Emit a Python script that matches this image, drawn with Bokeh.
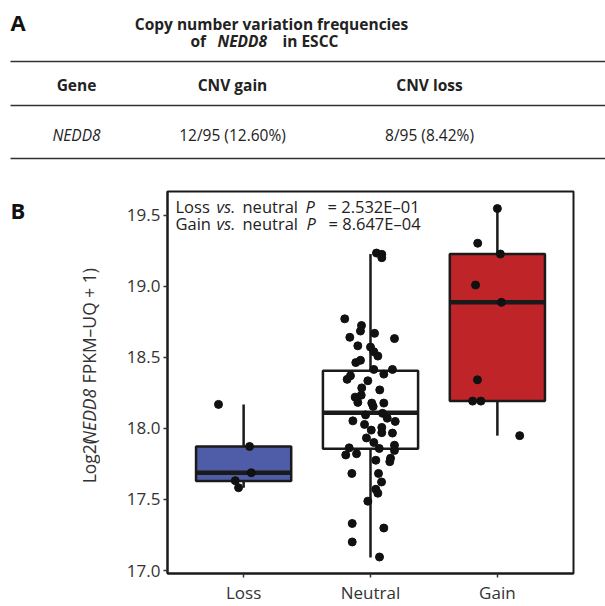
import numpy as np
from bokeh.plotting import figure
from bokeh.models import Range1d, FixedTicker, NumeralTickFormatter
from bokeh.layouts import column, row
from bokeh.embed import file_html
from bokeh.resources import INLINE
from bokeh.core.properties import value

FONT = "Open Sans"
INK = "#222222"

# ---------------- data ----------------
table_header = ["Gene", "CNV gain", "CNV loss"]
table_gene = ["NEDD8"]
table_gain = ["12/95 (12.60%)"]
table_loss = ["8/95 (8.42%)"]

categories = ["Loss", "Neutral", "Gain"]
box_colors = ["#4F5DA8", "#FFFFFF", "#BF2528"]

# box statistics (lower whisker, Q1, median, Q3, upper whisker)
w_lo = [17.583, 17.092, 17.949]
q1 = [17.630, 17.856, 18.192]
med = [17.688, 18.111, 18.887]
q3 = [17.873, 18.405, 19.227]
w_hi = [18.169, 19.227, 19.547]

loss_vals = [18.169, 17.873, 17.688, 17.632, 17.583]
loss_jit = [-0.198, 0.047, 0.060, -0.066, -0.040]

gain_vals = [19.547, 19.303, 19.227, 19.009, 18.887, 18.342, 18.192, 18.192, 17.949]
gain_jit = [0.000, -0.155, 0.024, -0.172, 0.032, -0.157, -0.195, -0.130, 0.176]

neutral_vals = [19.234, 19.225, 19.201, 18.771, 18.724, 18.685, 18.669, 18.641,
                18.632, 18.581, 18.572, 18.540, 18.509, 18.479, 18.463, 18.415,
                18.415, 18.370, 18.345, 18.382, 18.335, 18.285, 18.271, 18.220,
                18.234, 18.183, 18.178, 18.178, 18.155, 18.095, 18.106, 18.053,
                18.072, 18.049, 18.028, 17.988, 18.007, 17.970, 17.967, 17.933,
                17.901, 17.859, 17.882, 17.845, 17.863, 17.813, 17.822, 17.776,
                17.790, 17.766, 17.683, 17.683, 17.623, 17.572, 17.544, 17.488,
                17.331, 17.299, 17.201, 17.095]
neutral_jit = [0.047, 0.089, 0.089, -0.203, -0.071, -0.079, 0.032, -0.163,
               0.189, -0.100, 0.000, 0.026, 0.058, -0.079, -0.116, 0.026,
               0.173, -0.158, -0.184, 0.105, -0.021, -0.069, 0.073, -0.121,
               -0.073, -0.100, 0.010, 0.105, 0.021, -0.039, 0.095, -0.139,
               0.132, 0.195, -0.047, 0.006, 0.089, 0.089, 0.173, -0.032,
               0.026, 0.069, 0.189, 0.189, -0.168, -0.195, -0.110, 0.042,
               0.158, 0.152, -0.147, 0.063, 0.087, 0.042, 0.058, -0.021,
               -0.144, 0.105, -0.144, 0.071]

comparisons = ["Loss", "Gain"]
p_values = ["2.532E\u201301", "8.647E\u201304"]
y_ticks = [17.0, 17.5, 18.0, 18.5, 19.0, 19.5]


def bare(fig):
    fig.xgrid.visible = False
    fig.ygrid.visible = False
    fig.outline_line_color = None
    fig.background_fill_color = None
    fig.border_fill_color = None
    return fig


def txt(fig, x, y, s, size="16px", style="normal", align="left", angle=0.0, color=INK):
    fig.text(x=[x], y=[y], text=[s], text_font=value(FONT), text_font_size=value(size),
             text_font_style=value(style), text_align=value(align),
             text_baseline=value("middle"), angle=angle, text_color=color)


# ---------------- panel A (table) ----------------
pa = figure(width=605, height=178, x_range=Range1d(0, 605), y_range=Range1d(178, 0),
            toolbar_location=None, output_backend="svg", min_border=0,
            x_axis_location=None, y_axis_location=None)
bare(pa)
txt(pa, 10, 21, "A", size="22px", style="bold", color="#111111")
txt(pa, 271, 23, "Copy number variation frequencies", size="15.5px", style="bold", align="center")
txt(pa, 190, 40, "of", size="15.5px", style="bold")
txt(pa, 217, 40, table_gene[0], size="15.5px", style="bold italic")
txt(pa, 282, 40, "in ESCC", size="15.5px", style="bold")
pa.segment(x0=[10, 10, 10], x1=[605, 605, 605], y0=[61, 105, 158], y1=[61, 105, 158],
           line_color="#333333", line_width=1.5)
col_x = [76, 232, 429]
for cx, h in zip(col_x, table_header):
    txt(pa, cx, 84, h, size="15.5px", style="bold", align="center")
txt(pa, col_x[0], 134, table_gene[0], size="15.5px", style="italic", align="center")
txt(pa, col_x[1], 134, table_gain[0], size="15.5px", align="center")
txt(pa, col_x[2], 134, table_loss[0], size="15.5px", align="center")

# ---------------- panel B: y label strip ----------------
py_ = figure(width=100, height=428, x_range=Range1d(0, 100), y_range=Range1d(606, 178),
             toolbar_location=None, output_backend="svg", min_border=0,
             x_axis_location=None, y_axis_location=None)
bare(py_)
txt(py_, 10, 199, "B", size="22px", style="bold", color="#111111")
txt(py_, 88, 505, "Log2(", size="17.5px", angle=np.pi / 2, color="#333333")
txt(py_, 88, 460, "NEDD8", size="17.5px", style="italic", angle=np.pi / 2, color="#333333")
txt(py_, 88, 393, "FPKM\u2013UQ + 1)", size="17.5px", angle=np.pi / 2, color="#333333")

# ---------------- panel B: box plot ----------------
Y0, Y1 = 16.979, 19.667
pb = figure(width=505, height=428, x_range=Range1d(0.4, 3.6), y_range=Range1d(Y0, Y1),
            toolbar_location=None, output_backend="svg",
            min_border_left=67, min_border_right=32, min_border_top=13, min_border_bottom=28)
pb.xgrid.visible = False
pb.ygrid.visible = False
pb.background_fill_color = "white"
pb.border_fill_color = None
pb.outline_line_color = "#1a1a1a"
pb.outline_line_width = 2

xs = [1, 2, 3]
half = 0.375
pb.segment(x0=xs, x1=xs, y0=q3, y1=w_hi, line_color="#1a1a1a", line_width=2.5)
pb.segment(x0=xs, x1=xs, y0=q1, y1=w_lo, line_color="#1a1a1a", line_width=2.5)
pb.vbar(x=xs, width=2 * half, bottom=q1, top=q3, fill_color=box_colors,
        line_color="#1a1a1a", line_width=2.5)
pb.segment(x0=[x - half for x in xs], x1=[x + half for x in xs], y0=med, y1=med,
           line_color="#1a1a1a", line_width=4.5)

for i, (vals, jit) in enumerate([(loss_vals, loss_jit), (neutral_vals, neutral_jit),
                                 (gain_vals, gain_jit)]):
    pb.scatter(x=[xs[i] + j for j in jit], y=vals, size=8, fill_color="#111111",
               line_color="#111111")

# annotation text (pixel positions mapped into data space)
FL, FR, FT, FB = 167, 573, 191, 578


def dx(px):
    return 0.4 + (px - FL) / (FR - FL) * 3.2


def dy(py):
    return Y1 - (py - FT) / (FB - FT) * (Y1 - Y0)


for k, (cmp_name, pv) in enumerate(zip(comparisons, p_values)):
    yy = dy(206 + 17 * k)
    txt(pb, dx(175), yy, cmp_name, size="16.5px")
    txt(pb, dx(216), yy, "vs.", size="16.5px", style="italic")
    txt(pb, dx(242), yy, "neutral", size="16.5px")
    txt(pb, dx(305 + k), yy, "P", size="16.5px", style="italic")
    txt(pb, dx(327 + k), yy, "= " + pv, size="16.5px")

pb.xaxis.ticker = FixedTicker(ticks=xs)
pb.xaxis.major_label_overrides = {1: categories[0], 2: categories[1], 3: categories[2]}
pb.yaxis.ticker = FixedTicker(ticks=y_ticks)
pb.yaxis.formatter = NumeralTickFormatter(format="0.0")
for ax in (pb.xaxis[0], pb.yaxis[0]):
    ax.axis_line_color = "#1a1a1a"
    ax.axis_line_width = 2
    ax.major_tick_line_color = "#333333"
    ax.major_tick_line_width = 1.5
    ax.major_tick_out = 4
    ax.major_tick_in = 0
    ax.minor_tick_line_color = None
    ax.major_label_text_font = FONT
    ax.major_label_text_font_size = "17px"
    ax.major_label_text_color = "#333333"
    ax.major_label_standoff = 3

layout = column(pa, row(py_, pb))
open("out.html", "w").write(file_html(layout, INLINE))
